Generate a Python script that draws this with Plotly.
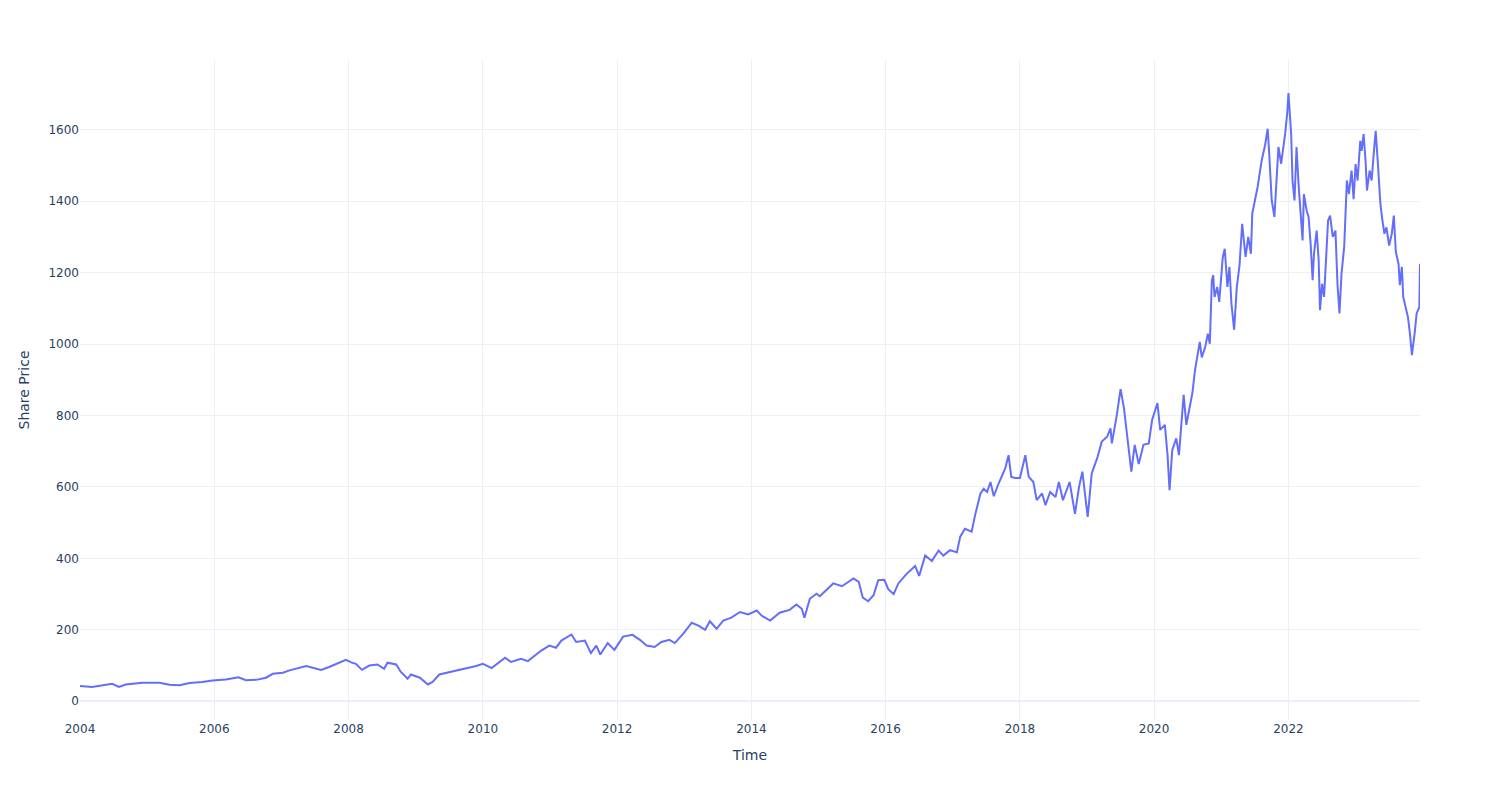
import plotly.graph_objects as go
from datetime import datetime, timedelta

# Time as decimal years and share price values
t_years = [
    2004.00, 2004.18, 2004.48, 2004.58, 2004.68, 2004.93, 2005.18, 2005.33, 2005.48, 2005.63,
    2005.82, 2005.97, 2006.17, 2006.36, 2006.47, 2006.62, 2006.77, 2006.87, 2007.02, 2007.12,
    2007.37, 2007.59, 2007.71, 2007.86, 2007.96, 2008.04, 2008.11, 2008.20, 2008.31, 2008.43,
    2008.53, 2008.58, 2008.71, 2008.78, 2008.88, 2008.93, 2009.06, 2009.18, 2009.25, 2009.35,
    2009.55, 2009.75, 2009.90, 2010.00, 2010.13, 2010.33, 2010.42, 2010.57, 2010.67, 2010.87,
    2010.99, 2011.09, 2011.17, 2011.32, 2011.39, 2011.52, 2011.61, 2011.69, 2011.75, 2011.86,
    2011.96, 2012.09, 2012.23, 2012.34, 2012.44, 2012.56, 2012.66, 2012.78, 2012.86, 2012.99,
    2013.11, 2013.21, 2013.31, 2013.38, 2013.48, 2013.58, 2013.70, 2013.83, 2013.95, 2014.08,
    2014.15, 2014.28, 2014.42, 2014.57, 2014.67, 2014.75, 2014.79, 2014.87, 2014.97, 2015.02,
    2015.12, 2015.22, 2015.35, 2015.52, 2015.60, 2015.66, 2015.74, 2015.82, 2015.89, 2015.98,
    2016.04, 2016.12, 2016.19, 2016.31, 2016.44, 2016.50, 2016.59, 2016.69, 2016.79, 2016.86,
    2016.96, 2017.06, 2017.11, 2017.18, 2017.28, 2017.33, 2017.41, 2017.46, 2017.51, 2017.56,
    2017.61, 2017.68, 2017.78, 2017.83, 2017.87, 2017.93, 2018.00, 2018.08, 2018.13, 2018.20,
    2018.25, 2018.33, 2018.38, 2018.45, 2018.53, 2018.58, 2018.64, 2018.74, 2018.82, 2018.88,
    2018.93, 2019.01, 2019.07, 2019.15, 2019.22, 2019.30, 2019.35, 2019.37, 2019.44, 2019.50,
    2019.55, 2019.61, 2019.66, 2019.71, 2019.77, 2019.84, 2019.92, 2019.97, 2020.05, 2020.09,
    2020.16, 2020.20, 2020.23, 2020.27, 2020.33, 2020.37, 2020.42, 2020.44, 2020.48, 2020.53,
    2020.57, 2020.61, 2020.64, 2020.68, 2020.71, 2020.76, 2020.80, 2020.83, 2020.86, 2020.88,
    2020.90, 2020.94, 2020.97, 2021.00, 2021.02, 2021.05, 2021.09, 2021.12, 2021.15, 2021.19,
    2021.23, 2021.27, 2021.31, 2021.36, 2021.40, 2021.44, 2021.46, 2021.54, 2021.60, 2021.65,
    2021.69, 2021.71, 2021.75, 2021.79, 2021.82, 2021.85, 2021.89, 2021.92, 2021.95, 2021.98,
    2022.00, 2022.04, 2022.06, 2022.09, 2022.12, 2022.15, 2022.18, 2022.21, 2022.23, 2022.27,
    2022.30, 2022.33, 2022.36, 2022.38, 2022.42, 2022.45, 2022.47, 2022.50, 2022.53, 2022.55,
    2022.59, 2022.62, 2022.66, 2022.70, 2022.73, 2022.76, 2022.79, 2022.83, 2022.87, 2022.90,
    2022.94, 2022.97, 2023.00, 2023.03, 2023.07, 2023.09, 2023.12, 2023.15, 2023.17, 2023.21,
    2023.24, 2023.27, 2023.30, 2023.33, 2023.37, 2023.40, 2023.43, 2023.46, 2023.50, 2023.54,
    2023.57, 2023.60, 2023.64, 2023.66, 2023.69, 2023.71, 2023.75, 2023.78, 2023.81, 2023.84,
    2023.88, 2023.91, 2023.95, 2023.96,
]

share_price = [
    43, 40, 49, 40, 47, 52, 52, 46.5, 45, 51,
    54, 58, 61, 67, 59, 60, 66, 77, 80, 86.5,
    98.6, 88, 96, 107, 116, 109, 105, 88, 100, 103,
    91, 108, 103, 82, 63, 75, 66, 47, 54, 75,
    84, 91, 99, 105, 93, 122, 110, 119, 112.5, 142,
    156, 150, 170, 187, 166, 170, 135, 156, 131, 163,
    144, 181, 186, 172, 156, 152, 166, 172, 163, 190,
    220, 212, 200, 224, 203, 226, 234, 250, 243, 254,
    240, 226, 248, 256, 271, 259, 234, 287, 301, 294,
    311, 330, 322, 344, 334, 290, 280, 297, 339, 340,
    314, 300, 330, 356, 379, 351, 408, 393, 422, 408,
    423, 417, 461, 483, 475, 520, 581, 595, 586, 614,
    574, 609, 652, 689, 628, 625, 625, 689, 629, 614,
    563, 582, 549, 586, 572, 614, 563, 614, 525, 600,
    643, 516, 638, 680, 727, 741, 764, 722, 797, 874,
    821, 713, 643, 718, 664, 718, 722, 788, 835, 760,
    774, 689, 591, 703, 736, 689, 797, 858, 774, 821,
    863, 928, 963, 1006, 963, 991, 1029, 1001, 1178, 1193,
    1132, 1160, 1118, 1207, 1242, 1267, 1160, 1216, 1113, 1040,
    1160, 1220, 1337, 1244, 1300, 1253, 1365, 1440, 1514, 1556,
    1603, 1542, 1402, 1356, 1449, 1552, 1505, 1542, 1589, 1645,
    1703, 1589, 1458, 1402, 1552, 1448, 1374, 1290, 1420, 1374,
    1355, 1281, 1179, 1253, 1318, 1234, 1095, 1169, 1132, 1216,
    1346, 1360, 1300, 1318, 1169, 1086, 1197, 1272, 1458, 1420,
    1486, 1406, 1504, 1458, 1569, 1541, 1588, 1509, 1430, 1486,
    1458, 1532, 1597, 1513, 1393, 1346, 1309, 1327, 1276, 1309,
    1360, 1258, 1225, 1165, 1216, 1132, 1104, 1076, 1030, 969,
    1030, 1086, 1104, 1225,
]


def to_date(y):
    yr = int(y)
    return datetime(yr, 1, 1) + timedelta(days=(y - yr) * 365.25)


dates = [to_date(y) for y in t_years]

fig = go.Figure()
fig.add_trace(go.Scatter(
    x=dates, y=share_price, mode="lines",
    line=dict(color="#636efa", width=2),
    name="Share Price",
))

fig.update_layout(
    template="plotly_white",
    width=1500, height=800,
    font=dict(family="DejaVu Sans", color="#2a3f5f"),
    margin=dict(l=80, r=80, t=60, b=80),
    xaxis=dict(title=dict(text="Time")),
    yaxis=dict(title=dict(text="Share Price")),
    showlegend=False,
)

fig.write_html("out.html")
